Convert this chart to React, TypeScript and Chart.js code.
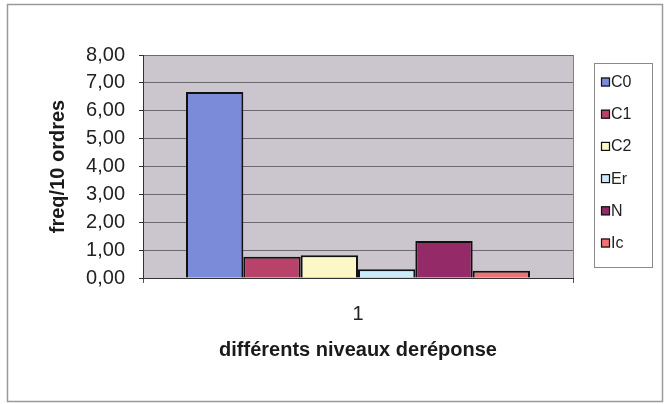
import React, { useEffect, useRef } from "react";
import { Chart, registerables } from "chart.js";

Chart.register(...registerables);

const categories = ["1"];
const seriesNames = ["C0", "C1", "C2", "Er", "N", "Ic"];
const seriesValues = [[6.67], [0.76], [0.82], [0.31], [1.33], [0.26]];
const seriesColors = ["#7b8ad9", "#b8426a", "#fbf7c6", "#cdeaf8", "#952a68", "#f07272"];
const yTicksMin = 0;
const yTicksMax = 8;
const yStep = 1;
const yTitle = "freq/10 ordres";
const xTitle = "différents niveaux deréponse";

const FONT = "'Liberation Sans', Arial, sans-serif";

const framePlugin = {
  id: "frame",
  beforeDraw(chart: any) {
    const { ctx, chartArea } = chart;
    ctx.save();
    ctx.fillStyle = "#ffffff";
    ctx.fillRect(0, 0, chart.width, chart.height);
    ctx.strokeStyle = "#9a9a9a";
    ctx.lineWidth = 1.5;
    ctx.strokeRect(7.5, 4.5, 655, 397);
    ctx.fillStyle = "#cbc6ce";
    ctx.fillRect(chartArea.left, chartArea.top, chartArea.right - chartArea.left, chartArea.bottom - chartArea.top);
    ctx.strokeStyle = "#808080";
    ctx.lineWidth = 1;
    ctx.strokeRect(chartArea.left + 0.5, chartArea.top + 0.5, chartArea.right - chartArea.left, chartArea.bottom - chartArea.top);
    ctx.restore();
  },
  afterDraw(chart: any) {
    const { ctx } = chart;
    ctx.save();
    const lx = 594, ly = 63, lw = 58, lh = 204;
    ctx.strokeStyle = "#8a8a8a";
    ctx.lineWidth = 1;
    ctx.strokeRect(lx + 0.5, ly + 0.5, lw, lh);
    ctx.font = `16px ${FONT}`;
    ctx.textBaseline = "middle";
    ctx.textAlign = "left";
    chart.data.datasets.forEach((ds: any, i: number) => {
      const cy = 82 + i * 32.2;
      ctx.fillStyle = ds.backgroundColor;
      ctx.fillRect(601, cy - 4.5, 9, 9);
      ctx.strokeStyle = "#111";
      ctx.lineWidth = 1.2;
      ctx.strokeRect(601.5, cy - 4, 8, 8);
      ctx.fillStyle = "#222";
      ctx.fillText(ds.label, 611, cy + 0.5);
    });
    ctx.restore();
  },
};

export default function App() {
  const ref = useRef<HTMLCanvasElement>(null);
  useEffect(() => {
    document.body.style.margin = "0";
    const canvas = ref.current!;
    const chart = new Chart(canvas, {
      type: "bar",
      data: {
        labels: categories,
        datasets: seriesNames.map((name, i) => ({
          label: name,
          data: seriesValues[i],
          backgroundColor: seriesColors[i],
          borderColor: "#111111",
          borderWidth: 2,
          categoryPercentage: 0.8,
          barPercentage: 1.0,
        })),
      },
      options: {
        animation: false,
        responsive: false,
        maintainAspectRatio: false,
        devicePixelRatio: 1,
        layout: { padding: { left: 0, top: 55, right: 91, bottom: 0 } },
        plugins: {
          legend: { display: false },
          tooltip: { enabled: false },
        },
        scales: {
          x: {
            offset: true,
            grid: { display: true, drawOnChartArea: false, drawTicks: true, tickLength: 5, color: "#555", offset: true },
            border: { display: true, color: "#333", width: 1 },
            ticks: { color: "#222", font: { family: FONT, size: 20 }, padding: 19 },
            title: { display: true, text: xTitle, color: "#1a1a1a", font: { family: FONT, size: 20, weight: "bold" }, padding: { top: 0, bottom: 42 } },
            afterFit(scale: any) { scale.height = 126; },
          },
          y: {
            min: yTicksMin,
            max: yTicksMax,
            ticks: {
              stepSize: yStep,
              color: "#222",
              font: { family: FONT, size: 20 },
              padding: 14,
              callback: (v: any) => Number(v).toFixed(2).replace(".", ","),
            },
            grid: { color: "#6b6b6b", lineWidth: 1, drawTicks: true, tickLength: 4, tickColor: "#333" },
            border: { display: true, color: "#333", width: 1 },
            title: { display: true, text: yTitle, color: "#1a1a1a", font: { family: FONT, size: 20, weight: "bold" }, padding: { top: 46, bottom: 0 } },
            afterFit(scale: any) { scale.width = 143; },
          },
        },
      },
      plugins: [framePlugin],
    });
    return () => chart.destroy();
  }, []);
  return <canvas ref={ref} width={664} height={404} style={{ display: "block", width: 664, height: 404 }} />;
}
